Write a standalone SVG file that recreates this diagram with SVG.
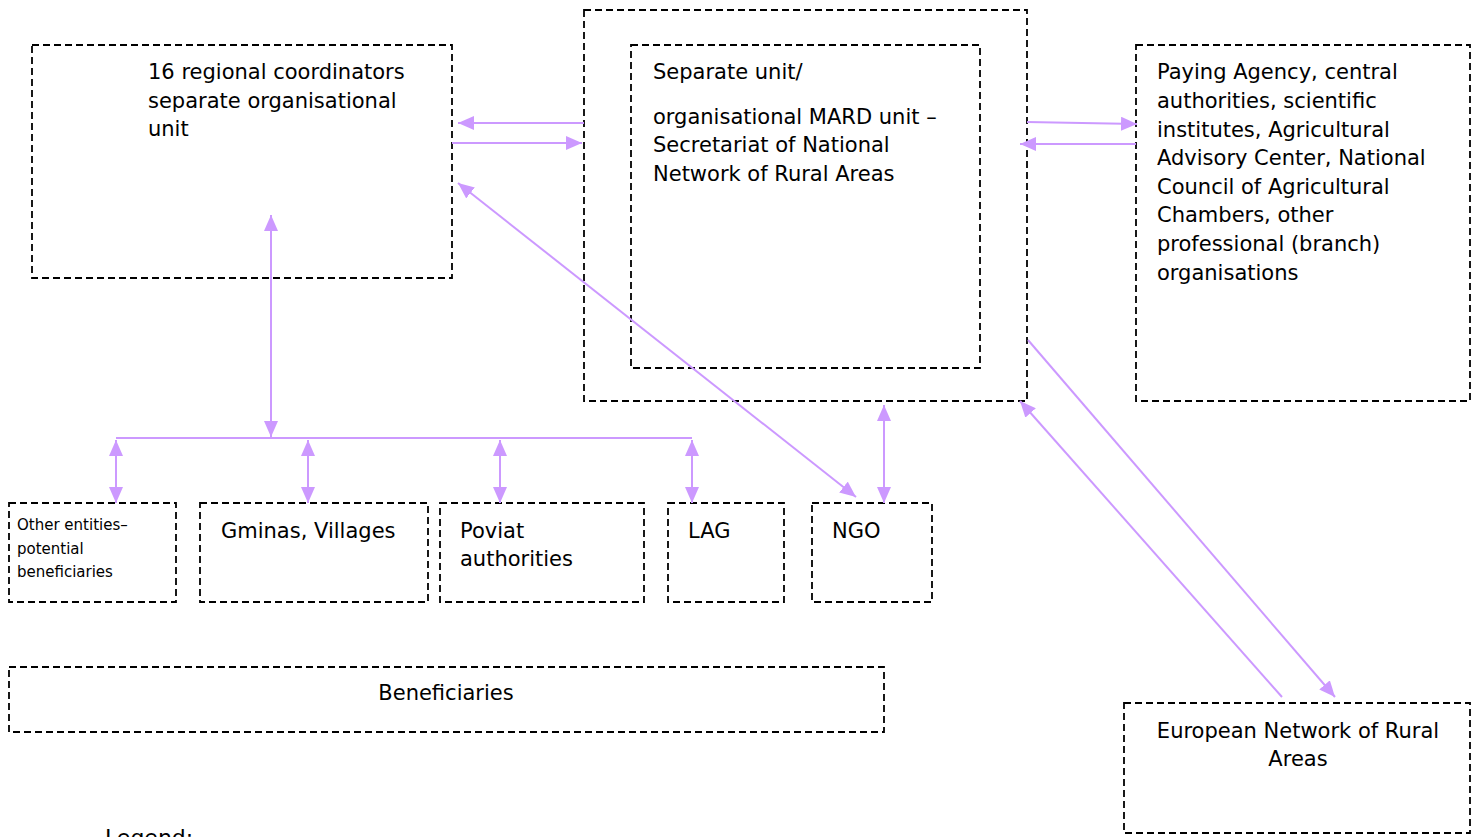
<svg xmlns="http://www.w3.org/2000/svg" width="1474" height="837" viewBox="0 0 1474 837">
<style>
.box{fill:none;stroke:#000;stroke-width:1.8;stroke-dasharray:7 4}
.t{font-family:"DejaVu Sans",Verdana,sans-serif;font-size:21px;fill:#000}
.s{font-size:15px}
.c{text-anchor:middle}
.ln{stroke:#cc99ff;stroke-width:2;fill:none}
.a{marker-end:url(#ah)}
.b{marker-start:url(#ah);marker-end:url(#ah)}
</style>
<defs>
<marker id="ah" viewBox="0 0 16 14" refX="16" refY="7" markerWidth="16" markerHeight="14" markerUnits="userSpaceOnUse" orient="auto-start-reverse">
<path d="M0,0 L16,7 L0,14 z" fill="#cc99ff"/>
</marker>
</defs>
<rect width="1474" height="837" fill="#fff"/>
<g id="regional">
<rect class="box" x="32" y="45" width="420" height="233"/>
<text class="t" x="148" y="79">16 regional coordinators</text>
<text class="t" x="148" y="108">separate organisational</text>
<text class="t" x="148" y="136">unit</text>
</g>
<g id="secretariat-outer">
<rect class="box" x="584" y="10" width="443" height="391"/>
</g>
<g id="secretariat">
<rect class="box" x="631" y="45" width="349" height="323"/>
<text class="t" x="653" y="79">Separate unit/</text>
<text class="t" x="653" y="124">organisational MARD unit –</text>
<text class="t" x="653" y="152">Secretariat of National</text>
<text class="t" x="653" y="181">Network of Rural Areas</text>
</g>
<g id="paying-agency">
<rect class="box" x="1136" y="45" width="334" height="356"/>
<text class="t" x="1157" y="79">Paying Agency, central</text>
<text class="t" x="1157" y="108">authorities, scientific</text>
<text class="t" x="1157" y="137">institutes, Agricultural</text>
<text class="t" x="1157" y="165">Advisory Center, National</text>
<text class="t" x="1157" y="194">Council of Agricultural</text>
<text class="t" x="1157" y="222">Chambers, other</text>
<text class="t" x="1157" y="251">professional (branch)</text>
<text class="t" x="1157" y="280">organisations</text>
</g>
<g id="other-entities">
<rect class="box" x="9" y="503" width="167" height="99"/>
<text class="t s" x="17" y="530">Other entities–</text>
<text class="t s" x="17" y="554">potential</text>
<text class="t s" x="17" y="577">beneficiaries</text>
</g>
<g id="gminas">
<rect class="box" x="200" y="503" width="228" height="99"/>
<text class="t" x="221" y="538">Gminas, Villages</text>
</g>
<g id="poviat">
<rect class="box" x="440" y="503" width="204" height="99"/>
<text class="t" x="460" y="538">Poviat</text>
<text class="t" x="460" y="566">authorities</text>
</g>
<g id="lag">
<rect class="box" x="668" y="503" width="116" height="99"/>
<text class="t" x="688" y="538">LAG</text>
</g>
<g id="ngo">
<rect class="box" x="812" y="503" width="120" height="99"/>
<text class="t" x="832" y="538">NGO</text>
</g>
<g id="beneficiaries">
<rect class="box" x="9" y="667" width="875" height="65"/>
<text class="t c" x="446" y="700">Beneficiaries</text>
</g>
<g id="european">
<rect class="box" x="1124" y="703" width="346" height="130"/>
<text class="t c" x="1298" y="738">European Network of Rural</text>
<text class="t c" x="1298" y="766">Areas</text>
</g>
<g id="legend">
<text class="t" x="105" y="845" style="font-size:22px">Legend:</text>
</g>
<g id="connectors">
<line class="ln a" x1="584" y1="123" x2="458" y2="123"/>
<line class="ln a" x1="452" y1="143" x2="582" y2="143"/>
<line class="ln a" x1="1027" y1="122" x2="1137" y2="124"/>
<line class="ln a" x1="1136" y1="144" x2="1020" y2="144"/>
<line class="ln b" x1="458" y1="183" x2="856" y2="497"/>
<line class="ln b" x1="271" y1="215" x2="271" y2="437"/>
<line class="ln" x1="116" y1="438" x2="692" y2="438"/>
<line class="ln b" x1="116" y1="440" x2="116" y2="503"/>
<line class="ln b" x1="308" y1="440" x2="308" y2="503"/>
<line class="ln b" x1="500" y1="440" x2="500" y2="503"/>
<line class="ln b" x1="692" y1="440" x2="692" y2="503"/>
<line class="ln b" x1="884" y1="405" x2="884" y2="503"/>
<line class="ln a" x1="1028" y1="340" x2="1335" y2="697"/>
<line class="ln a" x1="1282" y1="697" x2="1020" y2="401"/>
</g>
</svg>
